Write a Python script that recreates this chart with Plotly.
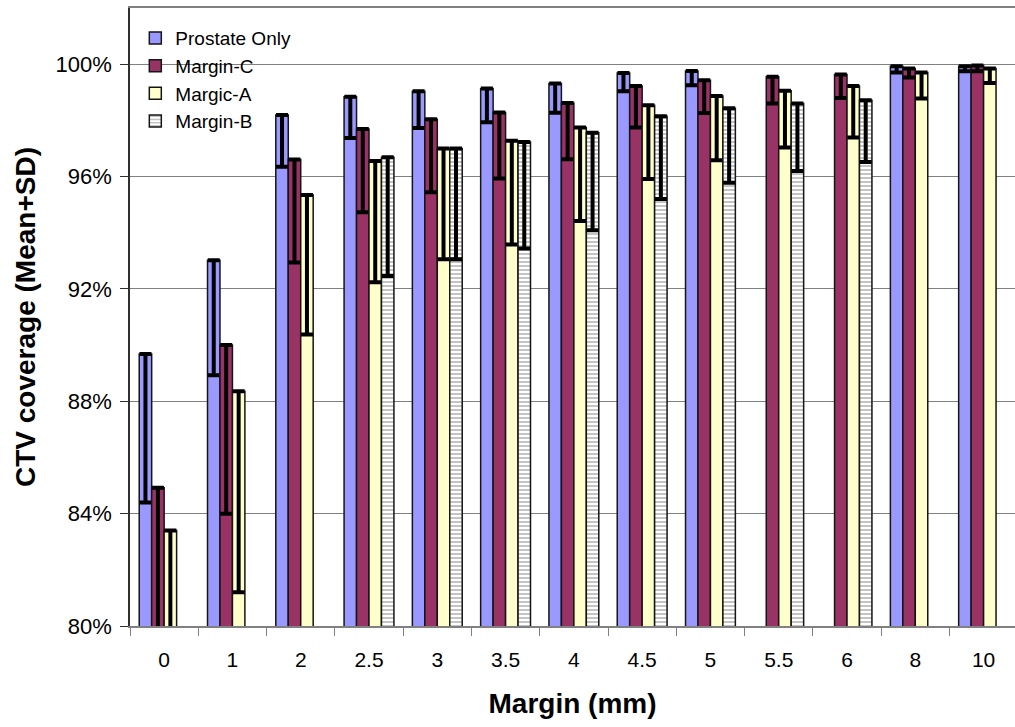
import plotly.graph_objects as go

categories = ["0", "1", "2", "2.5", "3", "3.5", "4", "4.5", "5", "5.5", "6", "8", "10"]

prostate_mean = [89.68, 93.02, 98.19, 98.84, 99.04, 99.13, 99.31, 99.69, 99.76, None, None, 99.93, 99.93]
prostate_low = [84.40, 88.93, 96.35, 97.37, 97.73, 97.93, 98.27, 99.04, 99.25, None, None, 99.70, 99.75]

marginC_mean = [84.92, 90.00, 96.61, 97.69, 98.04, 98.28, 98.62, 99.22, 99.43, 99.55, 99.63, 99.85, 99.95]
marginC_low = [78.00, 84.00, 92.94, 94.73, 95.44, 95.93, 96.62, 97.75, 98.26, 98.60, 98.80, 99.53, 99.75]

margicA_mean = [83.40, 88.36, 95.34, 96.55, 97.00, 97.27, 97.75, 98.54, 98.87, 99.05, 99.22, 99.70, 99.85]
margicA_low = [78.00, 81.20, 90.38, 92.24, 93.06, 93.58, 94.42, 95.91, 96.58, 97.03, 97.39, 98.78, 99.33]

marginB_mean = [None, None, None, 96.69, 97.00, 97.23, 97.56, 98.15, 98.43, 98.60, 98.72, None, None]
marginB_low = [None, None, None, 92.46, 93.06, 93.44, 94.09, 95.20, 95.78, 96.20, 96.52, None, None]

series_names = ["Prostate Only", "Margin-C", "Margic-A", "Margin-B"]
series_colors = ["#9999FF", "#993366", "#FFFFCC", "#FFFFFF"]

FONT = "Liberation Sans, Arial, sans-serif"


def sd(mean, low):
    return [(m - l) if (m is not None and l is not None) else 0 for m, l in zip(mean, low)]


fig = go.Figure()
data = [(prostate_mean, prostate_low), (marginC_mean, marginC_low),
        (margicA_mean, margicA_low), (marginB_mean, marginB_low)]

for i, (name, color, (mean, low)) in enumerate(zip(series_names, series_colors, data)):
    marker = dict(color=color, line=dict(color="#151515", width=1.5))
    if name == "Margin-B":
        marker["pattern"] = dict(shape="-", fgcolor="#8a8a8a", bgcolor="#FFFFFF",
                                 size=4, solidity=0.5)
    fig.add_trace(go.Bar(
        name=name,
        x=categories,
        y=mean,
        marker=marker,
        error_y=dict(type="data", symmetric=False,
                     array=[0] * len(categories),
                     arrayminus=sd(mean, low),
                     color="black", thickness=4, width=6),
    ))

# white patch that interrupts the 100% gridline behind the legend (drawn under the bars)
fig.add_shape(type="rect", xref="paper", yref="y", layer="between",
              x0=0.014, x1=0.195, y0=99.7, y1=100.3,
              fillcolor="white", line=dict(width=0))

fig.update_layout(
    width=1015, height=727,
    margin=dict(l=130, r=0, t=8, b=101),
    paper_bgcolor="white", plot_bgcolor="white",
    barmode="group", bargap=0.27, bargroupgap=0,
    font=dict(family=FONT, color="black"),
    showlegend=True,
    legend=dict(x=0.006, y=0.982, xanchor="left", yanchor="top",
                bgcolor="rgba(0,0,0,0)", borderwidth=0,
                font=dict(size=19, family=FONT, color="black"),
                tracegroupgap=0),
    xaxis=dict(
        type="category", range=[-0.5, 12.46],
        tickson="boundaries", ticks="outside", ticklen=8, tickcolor="#808080",
        showline=True, linecolor="#808080", linewidth=1.5, mirror=True,
        showgrid=False,
        tickfont=dict(size=21, family=FONT),
        ticklabelstandoff=14,
        title=dict(text="<b>Margin (mm)</b>", font=dict(size=28, family=FONT), standoff=23),
    ),
    yaxis=dict(
        range=[80, 102],
        tickvals=[80, 84, 88, 92, 96, 100],
        ticktext=["80%", "84%", "88%", "92%", "96%", "100%"],
        ticks="outside", ticklen=8, tickcolor="#303030",
        showline=True, linecolor="#303030", linewidth=1.5,
        showgrid=True, gridcolor="#808080", gridwidth=1,
        zeroline=False,
        tickfont=dict(size=22, family=FONT),
        ticklabelstandoff=4,
        title=dict(text="<b>CTV coverage (Mean+SD)</b>", font=dict(size=28, family=FONT), standoff=12),
    ),
)

fig.write_html("out.html")
